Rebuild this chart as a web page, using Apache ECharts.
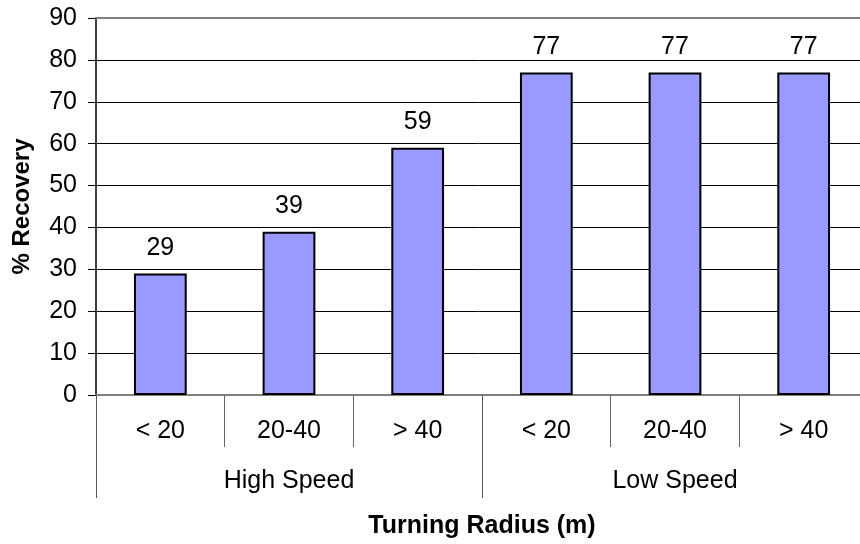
<!DOCTYPE html>
<html>
<head>
<meta charset="utf-8">
<script src="https://cdn.jsdelivr.net/npm/echarts@6/dist/echarts.min.js"></script>
<style>html,body{margin:0;padding:0;background:#fff;}#c{width:860px;height:544px;}</style>
</head>
<body>
<div id="c"></div>
<script>
var categories = ['< 20', '20-40', '> 40', '< 20', '20-40', '> 40'];
var groups = ['High Speed', 'Low Speed'];
var recovery = [29, 39, 59, 77, 77, 77];
var yTicks = { min: 0, max: 90, interval: 10 };

var FONT = '"Liberation Sans", Arial, sans-serif';
var FS = 25;
var chart = echarts.init(document.getElementById('c'), null, { renderer: 'canvas' });
chart.setOption({
  animation: false,
  backgroundColor: '#ffffff',
  textStyle: { fontFamily: FONT },
  grid: { left: 96, top: 18, width: 772, height: 377, containLabel: false, outerBoundsMode: 'none' },
  xAxis: [
    {
      type: 'category', data: categories, position: 'bottom', offset: 0,
      axisLine: { onZero: false, lineStyle: { color: '#808080', width: 2 } },
      axisTick: { show: true, length: 52, lineStyle: { color: '#666', width: 1 } },
      axisLabel: { color: '#000', fontSize: FS, fontFamily: FONT, margin: 24, interval: 0 },
      splitLine: { show: false },
      name: 'Turning Radius (m)', nameLocation: 'middle', nameGap: 119,
      nameTextStyle: { color: '#000', fontSize: FS, fontWeight: 'bold', fontFamily: FONT }
    },
    {
      type: 'category', data: groups, position: 'bottom', offset: 0,
      axisLine: { show: false, onZero: false },
      axisTick: { show: true, length: 103, lineStyle: { color: '#555', width: 1 } },
      axisLabel: { color: '#000', fontSize: FS, fontFamily: FONT, margin: 74, interval: 0 },
      splitLine: { show: false }
    },
    {
      type: 'category', data: categories, position: 'top', offset: 0, z: 10,
      axisLine: { show: true, onZero: false, lineStyle: { color: '#808080', width: 2 } },
      axisTick: { show: false }, axisLabel: { show: false }, splitLine: { show: false }
    }
  ],
  yAxis: {
    type: 'value', min: yTicks.min, max: yTicks.max, interval: yTicks.interval,
    axisLine: { show: true, lineStyle: { color: '#404040', width: 2 } },
    axisTick: { show: true, length: 8, lineStyle: { color: '#000', width: 1 } },
    axisLabel: { color: '#000', fontSize: FS, fontFamily: FONT, margin: 19 },
    splitLine: { show: true, lineStyle: { color: '#000', width: 1 } },
    name: '% Recovery', nameLocation: 'middle', nameGap: 62,
    nameTextStyle: { color: '#000', fontSize: 24, fontWeight: 'bold', fontFamily: FONT }
  },
  series: [{
    type: 'bar', xAxisIndex: 0, data: recovery, barWidth: '41%',
    itemStyle: { color: '#9999FF', borderColor: '#000', borderWidth: 2 },
    label: { show: true, position: 'top', distance: 13, color: '#000', fontSize: FS, fontFamily: FONT }
  }]
});
</script>
</body>
</html>
